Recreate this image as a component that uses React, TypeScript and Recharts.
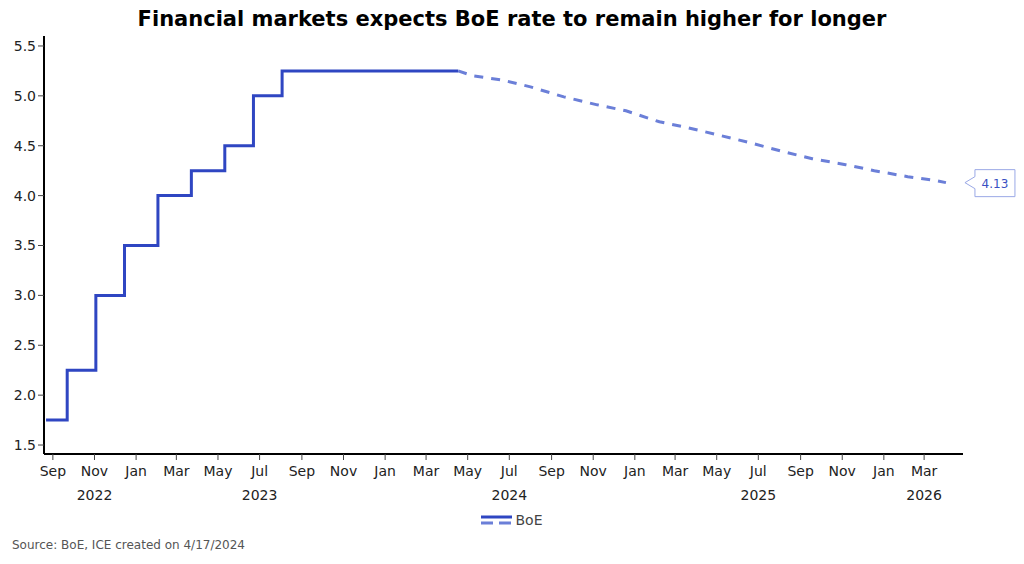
import { LineChart, Line, XAxis, YAxis, LabelList } from "recharts";

// BoE bank rate: actual (step) and market-implied path (dashed)
const rateDates = [
  "2022-08-22", "2022-09-22", "2022-11-03", "2022-12-15", "2023-02-02",
  "2023-03-23", "2023-05-11", "2023-06-22", "2023-08-03", "2024-04-17",
];
const rateValues = [1.75, 2.25, 3.0, 3.5, 4.0, 4.25, 4.5, 5.0, 5.25, 5.25];

const fcDates = [
  "2024-04-17", "2024-05-09", "2024-06-20", "2024-08-01", "2024-09-19",
  "2024-11-07", "2024-12-19", "2025-02-06", "2025-03-20", "2025-05-08",
  "2025-06-19", "2025-08-07", "2025-09-18", "2025-11-06", "2025-12-18",
  "2026-02-05", "2026-03-19", "2026-04-02",
];
const fcValues = [
  5.25, 5.2, 5.16, 5.09, 4.99, 4.91, 4.85, 4.74, 4.68, 4.6,
  4.53, 4.44, 4.37, 4.31, 4.25, 4.19, 4.15, 4.13,
];

const tickDates = [
  "2022-09-01", "2022-11-01", "2023-01-01", "2023-03-01", "2023-05-01",
  "2023-07-01", "2023-09-01", "2023-11-01", "2024-01-01", "2024-03-01",
  "2024-05-01", "2024-07-01", "2024-09-01", "2024-11-01", "2025-01-01",
  "2025-03-01", "2025-05-01", "2025-07-01", "2025-09-01", "2025-11-01",
  "2026-01-01", "2026-03-01",
];
const yearTickDates = ["2022-11-01", "2023-07-01", "2024-07-01", "2025-07-01", "2026-03-01"];
const yearNames = ["2022", "2023", "2024", "2025", "2026"];
const yTicks = [1.5, 2.0, 2.5, 3.0, 3.5, 4.0, 4.5, 5.0, 5.5];

const MONTHS = ["Jan", "Feb", "Mar", "Apr", "May", "Jun", "Jul", "Aug", "Sep", "Oct", "Nov", "Dec"];
const ts = (s: string) => Date.parse(s + "T00:00:00Z");

const actual = rateDates.map((d, i) => ({ t: ts(d), rate: rateValues[i] }));
const forecast = fcDates.map((d, i) => ({ t: ts(d), rate: fcValues[i] }));
const xTicks = tickDates.map(ts);

const FONT = "'DejaVu Sans', Verdana, sans-serif";
const SOLID = "#2f46c2";
const DASHED = "#6b7fd8";

function XTick(props: any) {
  const { x, y, payload } = props;
  const d = new Date(payload.value);
  const yi = yearTickDates.map(ts).indexOf(payload.value);
  return (
    <g transform={`translate(${x},${y})`}>
      <text textAnchor="middle" dy={14} fontSize={14} fill="#222" fontFamily={FONT}>
        {MONTHS[d.getUTCMonth()]}
      </text>
      {yi >= 0 && (
        <text textAnchor="middle" dy={38} fontSize={14} fill="#222" fontFamily={FONT}>
          {yearNames[yi]}
        </text>
      )}
    </g>
  );
}

function EndLabel(props: any) {
  const { x, y, index, value } = props;
  if (index !== forecast.length - 1) return null;
  const tip = x + 19;
  const bx = x + 29;
  const path = `M${tip},${y} L${bx},${y - 6} L${bx},${y - 13} L${bx + 40},${y - 13} L${bx + 40},${y + 14} L${bx},${y + 14} L${bx},${y + 6} Z`;
  return (
    <g>
      <path d={path} fill="#fff" stroke="#9aa8e6" strokeWidth={1} />
      <text x={bx + 20} y={y + 5} textAnchor="middle" fontSize={12} fill="#3a4fc2" fontFamily={FONT}>
        {Number(value).toFixed(2)}
      </text>
    </g>
  );
}

export default function App() {
  return (
    <div style={{ position: "absolute", left: 0, top: 0, width: 1024, height: 564, background: "#fff", fontFamily: FONT }}>
      <div style={{ position: "absolute", top: 7, left: 0, width: 1024, textAlign: "center", fontSize: 21, fontWeight: "bold", color: "#000" }}>
        Financial markets expects BoE rate to remain higher for longer
      </div>
      <LineChart width={1024} height={564} margin={{ top: 36, right: 61, bottom: 60, left: 0 }}>
        <XAxis
          dataKey="t"
          type="number"
          domain={[ts("2022-08-19"), ts("2026-04-27")]}
          ticks={xTicks}
          interval={0}
          allowDataOverflow
          height={50}
          tick={<XTick />}
          tickSize={6}
          axisLine={{ stroke: "#000", strokeWidth: 2 }}
          tickLine={{ stroke: "#444" }}
        />
        <YAxis
          type="number"
          domain={[1.41, 5.6]}
          ticks={yTicks}
          interval={0}
          allowDataOverflow
          width={44}
          tickFormatter={(v: number) => v.toFixed(1)}
          tick={{ fontSize: 14, fill: "#222", fontFamily: FONT }}
          tickSize={6}
          axisLine={{ stroke: "#000", strokeWidth: 2 }}
          tickLine={{ stroke: "#444" }}
        />
        <Line
          data={actual}
          dataKey="rate"
          name="BoE"
          type="stepAfter"
          stroke={SOLID}
          strokeWidth={3}
          dot={false}
          isAnimationActive={false}
        />
        <Line
          data={forecast}
          dataKey="rate"
          name="BoE forecast"
          type="linear"
          stroke={DASHED}
          strokeWidth={3}
          strokeDasharray="9 8"
          dot={false}
          isAnimationActive={false}
        >
          <LabelList dataKey="rate" content={<EndLabel />} />
        </Line>
      </LineChart>
      <div style={{ position: "absolute", top: 512, left: 0, width: 1024, display: "flex", justifyContent: "center", alignItems: "center", fontSize: 14, color: "#444" }}>
        <svg width={32} height={14} style={{ marginRight: 2 }}>
          <line x1={0} y1={4} x2={31} y2={4} stroke={SOLID} strokeWidth={3} />
          <line x1={0} y1={10} x2={31} y2={10} stroke={DASHED} strokeWidth={3} strokeDasharray="12 6" />
        </svg>
        <span>BoE</span>
      </div>
      <div style={{ position: "absolute", left: 12, top: 538, fontSize: 12, color: "#555" }}>
        Source: BoE, ICE created on 4/17/2024
      </div>
    </div>
  );
}
